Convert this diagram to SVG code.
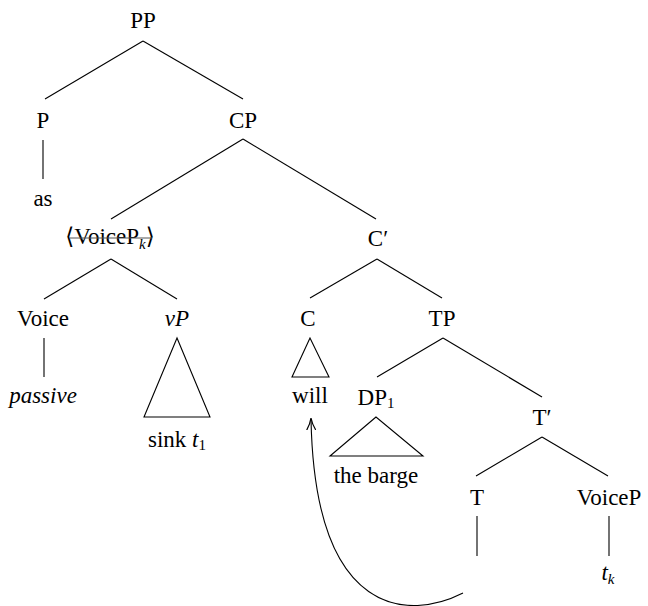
<svg xmlns="http://www.w3.org/2000/svg" width="648" height="606" viewBox="0 0 648 606">
<defs>
<style>
text{font-family:"Liberation Serif","DejaVu Serif",serif;font-size:23px;fill:#000;text-anchor:middle}
.it{font-style:italic}
.sub{font-size:15px}
.ln{stroke:#000;stroke-width:1.1;fill:none}
.tri{stroke:#000;stroke-width:1.1;fill:none;stroke-linejoin:miter}
.strike{stroke:#555;stroke-width:1.2}
</style>
<marker id="ah" viewBox="0 0 12 10" refX="11" refY="5" markerWidth="12" markerHeight="10" markerUnits="userSpaceOnUse" orient="auto">
<path d="M0,0.5 Q6,4 12,5 Q6,6 0,9.5" fill="none" stroke="#000" stroke-width="1.2"/>
</marker>
</defs>
<rect width="648" height="606" fill="#fff"/>
<g id="connectors">
<line class="ln" x1="143" y1="41" x2="45" y2="99"/>
<line class="ln" x1="143" y1="41" x2="243" y2="99"/>
<line class="ln" x1="43" y1="140" x2="43" y2="179"/>
<line class="ln" x1="243" y1="139" x2="111" y2="219"/>
<line class="ln" x1="243" y1="139" x2="376" y2="219"/>
<line class="ln" x1="111" y1="259" x2="44" y2="299"/>
<line class="ln" x1="111" y1="259" x2="177" y2="299"/>
<line class="ln" x1="377" y1="259" x2="310" y2="298"/>
<line class="ln" x1="377" y1="259" x2="442" y2="298"/>
<line class="ln" x1="44" y1="338" x2="44" y2="377"/>
<line class="ln" x1="443" y1="338" x2="377" y2="377"/>
<line class="ln" x1="443" y1="338" x2="542" y2="397"/>
<line class="ln" x1="542" y1="437" x2="476" y2="476"/>
<line class="ln" x1="542" y1="437" x2="608" y2="476"/>
<line class="ln" x1="477" y1="516" x2="477" y2="556"/>
<line class="ln" x1="609" y1="516" x2="609" y2="556"/>
<polygon class="tri" points="177,338 144,417 210,417"/>
<polygon class="tri" points="310,338 292,377 329,377"/>
<polygon class="tri" points="376,417 330,456 423,456"/>
<path class="ln" d="M463,593 C410,620 315,620 311,419" marker-end="url(#ah)"/>
</g>
<g id="node-PP"><text x="143" y="28">PP</text></g>
<g id="node-P"><text x="43" y="128">P</text></g>
<g id="node-as"><text x="43" y="206">as</text></g>
<g id="node-CP"><text x="243" y="128">CP</text></g>
<g id="node-VoicePk">
<text x="110" y="244">⟨VoiceP<tspan class="it sub" dy="5">k</tspan><tspan dy="-5">⟩</tspan></text>
<line class="strike" x1="70" y1="238" x2="152" y2="238"/>
</g>
<g id="node-Cbar"><text x="378" y="246">C′</text></g>
<g id="node-Voice"><text x="43" y="326">Voice</text></g>
<g id="node-passive"><text x="43" y="403" class="it">passive</text></g>
<g id="node-vP"><text x="177" y="326" class="it">vP</text></g>
<g id="node-sink"><text x="177" y="447">sink <tspan class="it">t</tspan><tspan class="sub" dy="3">1</tspan></text></g>
<g id="node-C"><text x="308" y="326">C</text></g>
<g id="node-will"><text x="310" y="403">will</text></g>
<g id="node-TP"><text x="442" y="326">TP</text></g>
<g id="node-DP1"><text x="376" y="405">DP<tspan class="sub" dy="3">1</tspan></text></g>
<g id="node-barge"><text x="376" y="483">the barge</text></g>
<g id="node-Tbar"><text x="542" y="425">T′</text></g>
<g id="node-T"><text x="477" y="505">T</text></g>
<g id="node-VoiceP"><text x="609" y="505">VoiceP</text></g>
<g id="node-tk"><text x="608" y="580"><tspan class="it">t</tspan><tspan class="it sub" dy="4">k</tspan></text></g>
</svg>
